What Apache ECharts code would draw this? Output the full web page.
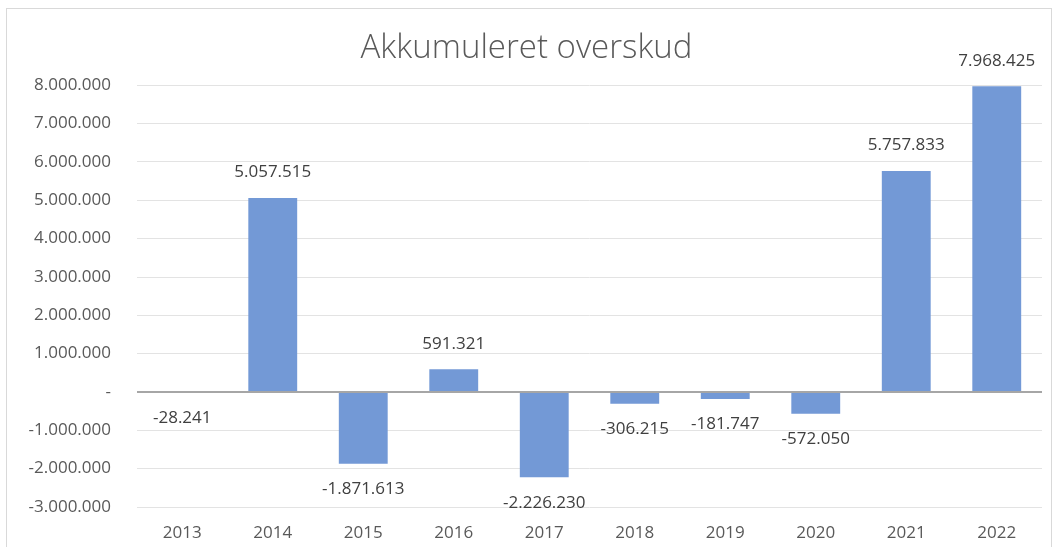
<!DOCTYPE html>
<html>
<head>
<meta charset="utf-8">
<script src="https://cdn.jsdelivr.net/npm/echarts@6/dist/echarts.min.js"></script>
<style>
html,body{margin:0;padding:0;background:#fff;}
#frame{position:absolute;left:6px;top:8px;width:1046px;height:540px;border:1px solid #d9d9d9;box-sizing:border-box;}
#chart{width:1053px;height:547px;position:absolute;left:0;top:0;}
</style>
</head>
<body>
<div id="frame"></div>
<div id="chart"></div>
<script>
const categories = ['2013','2014','2015','2016','2017','2018','2019','2020','2021','2022'];
const values = [-28241, 5057515, -1871613, 591321, -2226230, -306215, -181747, -572050, 5757833, 7968425];
const titleText = 'Akkumuleret overskud';

function fmt(v){
  if (v === 0) return '-';
  const s = Math.abs(Math.round(v)).toString().replace(/\B(?=(\d{3})+(?!\d))/g, '.');
  return (v < 0 ? '-' : '') + s;
}

const chart = echarts.init(document.getElementById('chart'), null, {renderer:'canvas'});
const font = '"Open Sans", "Liberation Sans", sans-serif';
chart.setOption({
  animation:false,
  backgroundColor:'transparent',
  title:{
    text:titleText, left:'center', top:27,
    textStyle:{fontFamily:font, fontSize:33, fontWeight:300, color:'#595959'}
  },
  grid:{left:137, right:11, top:85, bottom:40, containLabel:false},
  xAxis:{
    type:'category', data:categories,
    axisLine:{show:false}, axisTick:{show:false},
    axisLabel:{color:'#595959', fontFamily:font, fontSize:17, margin:18}
  },
  yAxis:{
    type:'value', min:-3000000, max:8000000, interval:1000000,
    axisLine:{show:false}, axisTick:{show:false},
    splitLine:{lineStyle:{color:'#e3e3e3', width:1}},
    axisLabel:{color:'#595959', fontFamily:font, fontSize:17, margin:26, formatter:fmt}
  },
  series:[{
    type:'bar',
    data:values.map(v => ({value:v, label:{position: v >= 0 ? 'top' : 'bottom'}})),
    barWidth:'54%',
    itemStyle:{color:'#7399d6'},
    label:{show:true, distance:17, color:'#404040', fontFamily:font, fontSize:17, formatter:p => fmt(p.value)},
    markLine:{
      silent:true, symbol:'none', z:10, label:{show:false},
      lineStyle:{color:'#a6a6a6', width:2, type:'solid'},
      data:[{yAxis:0}]
    }
  }]
});
</script>
</body>
</html>
